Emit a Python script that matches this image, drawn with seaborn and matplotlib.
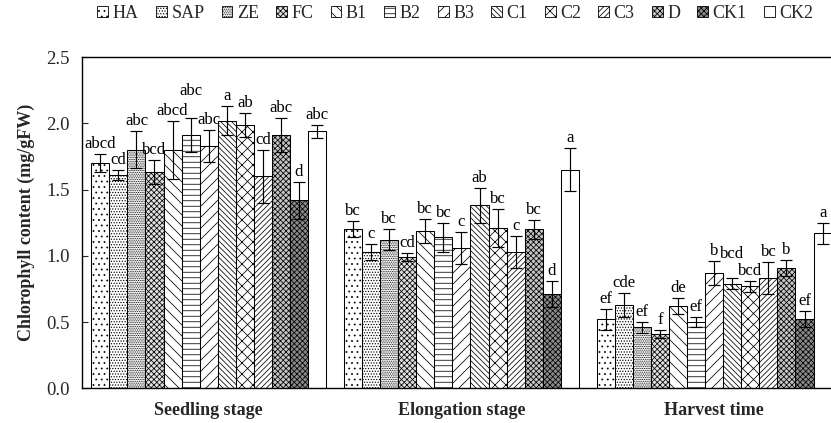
import numpy as np
import pandas as pd
import matplotlib
matplotlib.use("Agg")
import matplotlib.pyplot as plt
from matplotlib.patches import Patch
from matplotlib.container import BarContainer
import seaborn as sns

# Growth stages (x categories) and treatments (hue levels)
stages = ["Seedling stage", "Elongation stage", "Harvest time"]
treatments = ["HA", "SAP", "ZE", "FC", "B1", "B2", "B3",
              "C1", "C2", "C3", "D", "CK1", "CK2"]

# Mean chlorophyll content (mg/gFW) per treatment at each stage
seedling_mean = [1.70, 1.61, 1.80, 1.63, 1.80, 1.91, 1.83, 2.02, 1.99, 1.60, 1.91, 1.42, 1.94]
elongation_mean = [1.20, 1.03, 1.12, 0.99, 1.19, 1.14, 1.06, 1.38, 1.21, 1.03, 1.20, 0.71, 1.65]
harvest_mean = [0.52, 0.63, 0.46, 0.41, 0.62, 0.50, 0.87, 0.79, 0.77, 0.83, 0.91, 0.52, 1.17]

# Standard errors
seedling_err = [0.07, 0.04, 0.14, 0.09, 0.22, 0.13, 0.12, 0.11, 0.09, 0.20, 0.13, 0.14, 0.05]
elongation_err = [0.06, 0.06, 0.08, 0.03, 0.09, 0.11, 0.12, 0.13, 0.14, 0.12, 0.07, 0.10, 0.16]
harvest_err = [0.08, 0.09, 0.04, 0.03, 0.06, 0.04, 0.09, 0.04, 0.04, 0.12, 0.06, 0.06, 0.08]

# Significance letters
seedling_sig = ["abcd", "cd", "abc", "bcd", "abcd", "abc", "abc", "a", "ab", "cd", "abc", "d", "abc"]
elongation_sig = ["bc", "c", "bc", "cd", "bc", "bc", "c", "ab", "bc", "c", "bc", "d", "a"]
harvest_sig = ["ef", "cde", "ef", "f", "de", "ef", "b", "bcd", "bcd", "bc", "b", "ef", "a"]

# Fill pattern and face colour of each treatment
hatches = [".", "..", "...", "xx", "\\", "-", "/", "\\\\", "x", "//", "xx", "xx", ""]
faces = ["white", "white", "white", "#e0e0e0", "white", "white", "white",
         "white", "white", "white", "#c4c4c4", "#8a8a8a", "white"]

# Letters lifted clear of a neighbour's label: (stage index, treatment index) -> extra points
label_lift = {(0, 5): 12.0, (2, 7): 10.0}

means = [seedling_mean, elongation_mean, harvest_mean]
errs = [seedling_err, elongation_err, harvest_err]
sigs = [seedling_sig, elongation_sig, harvest_sig]

rows = []
for s, stage in enumerate(stages):
    for t, trt in enumerate(treatments):
        rows.append({"stage": stage, "treatment": trt, "value": means[s][t]})
df = pd.DataFrame(rows)

# The figure is laid out at a low dpi with every point size scaled up by S,
# which makes the hatch patterns S times finer in pixels.
S = 3.0
DPI = 100.0 / S


def pt(x):
    return x * S


sns.set_style("ticks")
plt.rcParams["font.family"] = ["Liberation Serif", "DejaVu Serif"]
plt.rcParams["hatch.linewidth"] = pt(0.55)

fig = plt.figure(figsize=(831 / DPI, 423 / DPI), dpi=DPI)
ax = fig.add_axes([0.0990, 0.0820, 0.9126, 0.7832])

sns.barplot(data=df, x="stage", y="value", hue="treatment",
            order=stages, hue_order=treatments, width=13 / 14, gap=0,
            errorbar=None, palette=["white"] * len(treatments),
            edgecolor="black", linewidth=pt(0.75), legend=False, ax=ax)

bar_groups = [c for c in ax.containers if isinstance(c, BarContainer)]
for t, cont in enumerate(bar_groups):
    for s, bar in enumerate(cont.patches):
        bar.set_hatch(hatches[t])
        bar.set_facecolor(faces[t])
        bar.set_edgecolor("black")
        cx = bar.get_x() + bar.get_width() / 2
        h = bar.get_height()
        e = errs[s][t]
        ax.errorbar(cx, h, yerr=e, color="black", capsize=pt(4.0),
                    elinewidth=pt(0.85), capthick=pt(0.85), zorder=5)
        ax.annotate(sigs[s][t], (cx, h + e),
                    xytext=(0, pt(1.5 + label_lift.get((s, t), 0.0))),
                    textcoords="offset points", ha="center", va="bottom",
                    fontsize=pt(12), color="black")

ax.set_xlim(-0.5, 2.5)
ax.set_ylim(0, 2.5)
ax.set_yticks([0.0, 0.5, 1.0, 1.5, 2.0, 2.5])
ax.set_yticklabels(["0.0", "0.5", "1.0", "1.5", "2.0", "2.5"])
ax.tick_params(axis="y", direction="in", length=pt(4.5), width=pt(0.8),
               labelsize=pt(13.5), pad=pt(9))
ax.tick_params(axis="x", length=0, pad=pt(10))
for lab in ax.get_xticklabels():
    lab.set_fontweight("bold")
    lab.set_fontsize(pt(13))
ax.set_xlabel("")
ax.set_ylabel("Chlorophyll content (mg/gFW)", fontsize=pt(13),
              fontweight="bold", labelpad=pt(8))

for side in ["left", "bottom", "top", "right"]:
    ax.spines[side].set_visible(True)
    ax.spines[side].set_linewidth(pt(1.0))
    ax.spines[side].set_color("black")

handles = [Patch(facecolor=faces[i], edgecolor="black", hatch=hatches[i],
                 linewidth=pt(0.6), label=treatments[i]) for i in range(len(treatments))]
fig.legend(handles=handles, loc="center", bbox_to_anchor=(0.548, 0.968),
           ncol=len(treatments), frameon=False, fontsize=pt(13),
           handlelength=0.6, handleheight=0.6, handletextpad=0.25,
           columnspacing=0.95, borderaxespad=0)

fig.savefig("out.png", dpi=DPI)
